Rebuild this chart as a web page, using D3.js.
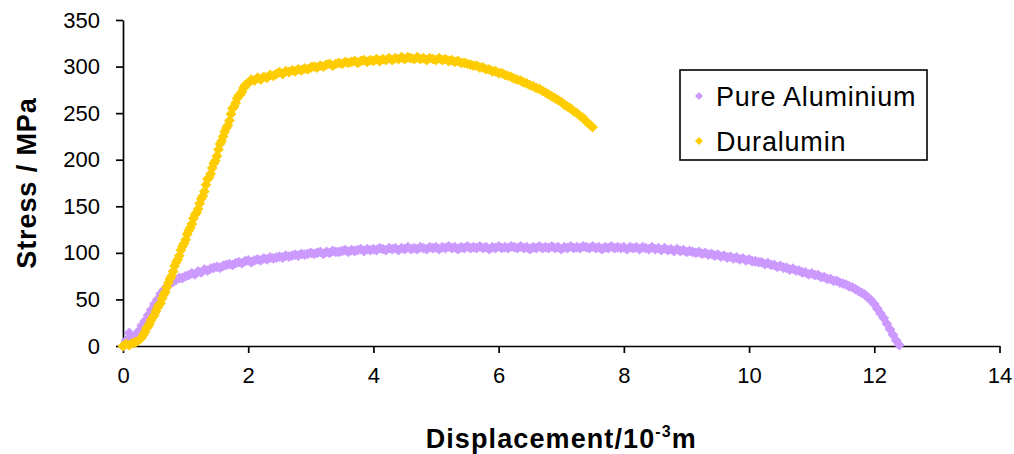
<!DOCTYPE html>
<html>
<head>
<meta charset="utf-8">
<script src="https://cdn.jsdelivr.net/npm/d3@7"></script>
<style>
  html, body { margin: 0; padding: 0; background: #fff; }
  svg { display: block; }
  text { font-family: "Liberation Sans", Arial, sans-serif; fill: #000; }
</style>
</head>
<body>
<svg id="chart" width="1014" height="454"></svg>
<script>
// ---- Data ----
const seriesNames = ["Pure Aluminium", "Duralumin"];
const seriesColors = ["#CC99FF", "#FFCC00"];

const xTicks = [0, 2, 4, 6, 8, 10, 12, 14];
const yTicks = [0, 50, 100, 150, 200, 250, 300, 350];

// Pure Aluminium: displacement (10^-3 m) and stress (MPa)
const alDisp = [
  0.00,0.05,0.10,0.15,0.20,0.25,0.30,0.35,0.40,0.45,0.50,0.55,0.60,0.65,0.70,0.75,0.80,0.85,0.90,0.95,
  1.00,1.05,1.10,1.15,1.20,1.25,1.30,1.35,1.40,1.45,1.50,1.55,1.60,1.65,1.70,1.75,1.80,1.85,1.90,1.95,
  2.00,2.05,2.10,2.15,2.20,2.25,2.30,2.35,2.40,2.45,2.50,2.55,2.60,2.65,2.70,2.75,2.80,2.85,2.90,2.95,
  3.00,3.05,3.10,3.15,3.20,3.25,3.30,3.35,3.40,3.45,3.50,3.55,3.60,3.65,3.70,3.75,3.80,3.85,3.90,3.95,
  4.00,4.05,4.10,4.15,4.20,4.25,4.30,4.35,4.40,4.45,4.50,4.55,4.60,4.65,4.70,4.75,4.80,4.85,4.90,4.95,
  5.00,5.05,5.10,5.15,5.20,5.25,5.30,5.35,5.40,5.45,5.50,5.55,5.60,5.65,5.70,5.75,5.80,5.85,5.90,5.95,
  6.00,6.05,6.10,6.15,6.20,6.25,6.30,6.35,6.40,6.45,6.50,6.55,6.60,6.65,6.70,6.75,6.80,6.85,6.90,6.95,
  7.00,7.05,7.10,7.15,7.20,7.25,7.30,7.35,7.40,7.45,7.50,7.55,7.60,7.65,7.70,7.75,7.80,7.85,7.90,7.95,
  8.00,8.05,8.10,8.15,8.20,8.25,8.30,8.35,8.40,8.45,8.50,8.55,8.60,8.65,8.70,8.75,8.80,8.85,8.90,8.95,
  9.00,9.05,9.10,9.15,9.20,9.25,9.30,9.35,9.40,9.45,9.50,9.55,9.60,9.65,9.70,9.75,9.80,9.85,9.90,9.95,
  10.00,10.05,10.10,10.15,10.20,10.25,10.30,10.35,10.40,10.45,10.50,10.55,10.60,10.65,10.70,10.75,10.80,10.85,10.90,10.95,
  11.00,11.05,11.10,11.15,11.20,11.25,11.30,11.35,11.40,11.45,11.50,11.55,11.60,11.65,11.70,11.75,11.80,11.85,11.90,11.95,
  12.00,12.05,12.10,12.15,12.20,12.25,12.30,12.35,12.40];
const alStress = [
  0,6,14,8,11,16,22,27,33,39,45,50,56,60,64,67,69,71,73,73,
  75,76,78,77,80,79,82,81,83,84,85,84,86,87,88,87,89,90,89,91,
  92,90,92,93,92,94,93,95,94,95,96,95,97,96,97,98,97,99,98,99,
  100,99,100,101,99,101,100,102,101,101,102,103,101,103,102,103,104,102,104,103,
  104,103,105,104,103,105,104,105,103,105,104,106,104,105,104,106,105,104,106,105,
  106,104,106,105,107,105,106,104,106,105,107,105,106,105,107,105,106,104,106,105,
  107,105,106,105,107,106,105,107,105,106,104,106,105,107,105,106,105,107,105,106,
  104,106,105,107,105,106,105,107,106,105,107,105,106,104,106,105,107,105,106,105,
  106,104,106,105,106,104,106,105,104,106,104,105,103,105,103,104,102,104,102,103,
  101,102,101,100,101,99,100,98,99,97,98,96,97,95,96,94,95,93,94,92,
  93,91,91,90,90,88,89,87,87,85,86,84,84,82,83,81,81,79,79,77,
  78,76,76,74,74,72,72,70,70,68,67,66,64,63,61,59,57,55,52,49,
  45,40,35,30,24,18,12,6,1];

// Duralumin: displacement (10^-3 m) and stress (MPa)
const duDisp = [
  0.00,0.05,0.10,0.15,0.20,0.25,0.30,0.325,0.35,0.375,0.40,0.425,0.45,0.475,0.50,0.525,0.55,0.575,
  0.60,0.625,0.65,0.675,0.70,0.725,0.75,0.775,0.80,0.825,0.85,0.875,0.90,0.925,0.95,0.975,
  1.00,1.025,1.05,1.075,1.10,1.125,1.15,1.175,1.20,1.225,1.25,1.275,1.30,1.325,1.35,1.375,
  1.40,1.425,1.45,1.475,1.50,1.525,1.55,1.575,1.60,1.625,1.65,1.675,1.70,1.725,1.75,1.775,
  1.80,1.825,1.85,1.875,1.90,1.925,1.95,1.975,
  2.00,2.05,2.10,2.15,2.20,2.25,2.30,2.35,2.40,2.45,2.50,2.55,2.60,2.65,2.70,2.75,2.80,2.85,2.90,2.95,
  3.00,3.05,3.10,3.15,3.20,3.25,3.30,3.35,3.40,3.45,3.50,3.55,3.60,3.65,3.70,3.75,3.80,3.85,3.90,3.95,
  4.00,4.05,4.10,4.15,4.20,4.25,4.30,4.35,4.40,4.45,4.50,4.55,4.60,4.65,4.70,4.75,4.80,4.85,4.90,4.95,
  5.00,5.05,5.10,5.15,5.20,5.25,5.30,5.35,5.40,5.45,5.50,5.55,5.60,5.65,5.70,5.75,5.80,5.85,5.90,5.95,
  6.00,6.05,6.10,6.15,6.20,6.25,6.30,6.35,6.40,6.45,6.50,6.55,6.60,6.65,6.70,6.75,6.80,6.85,6.90,6.95,
  7.00,7.05,7.10,7.15,7.20,7.25,7.30,7.35,7.40,7.45,7.50];
const duStress = [
  0,2,1,3,4,6,9,12,15,19,21,24,28,31,33,37,41,44,
  46,51,55,58,63,68,72,75,80,86,90,93,97,103,107,110,
  114,120,124,127,131,137,141,143,147,153,158,161,166,173,179,181,
  185,191,196,199,204,211,217,220,225,230,234,237,242,249,255,257,
  261,266,269,270,273,277,280,281,
  282,286,285,288,286,289,288,291,290,292,294,292,295,294,296,295,297,296,298,297,
  299,300,299,301,300,302,303,301,303,304,303,305,304,305,306,304,306,307,305,307,
  306,308,306,308,307,309,307,309,308,310,308,310,309,308,310,308,309,307,309,308,
  307,309,307,308,306,307,305,306,304,304,303,302,301,301,299,299,297,297,295,295,
  293,293,291,290,289,287,286,285,283,282,280,279,277,276,274,272,270,268,266,264,
  262,259,257,255,252,250,247,245,241,238,235];

// ---- Layout ----
const svg = d3.select("#chart");
const x = d3.scaleLinear().domain([0, 14]).range([123, 999.5]);
const y = d3.scaleLinear().domain([0, 350]).range([346, 20]);

const diamond = r => `M0,${-r}L${r},0L0,${r}L${-r},0Z`;

// Axes
const xAxis = svg.append("g")
  .attr("transform", `translate(0,${y(0)})`)
  .call(d3.axisBottom(x).tickValues(xTicks).tickSize(7).tickSizeOuter(0).tickPadding(14).tickFormat(d3.format("d")));
const yAxis = svg.append("g")
  .attr("transform", `translate(${x(0)},0)`)
  .call(d3.axisLeft(y).tickValues(yTicks).tickSize(7).tickSizeOuter(0).tickPadding(16).tickFormat(d3.format("d")));

[xAxis, yAxis].forEach(g => {
  g.select(".domain").attr("stroke", "#000").attr("stroke-width", 1.7);
  g.selectAll(".tick line").attr("stroke", "#000").attr("stroke-width", 1.7);
  g.selectAll(".tick text").attr("font-size", 22).attr("font-family", "Liberation Sans, Arial, sans-serif").attr("fill", "#111");
});

// Series
const series = [
  { name: seriesNames[0], color: seriesColors[0], xs: alDisp, ys: alStress },
  { name: seriesNames[1], color: seriesColors[1], xs: duDisp, ys: duStress }
];
series.forEach(s => {
  svg.append("g").selectAll("path")
    .data(s.xs.map((d, i) => [d, s.ys[i]]))
    .join("path")
    .attr("d", diamond(5.4))
    .attr("transform", d => `translate(${x(d[0])},${y(d[1])})`)
    .attr("fill", s.color);
});

// Axis titles
svg.append("text")
  .attr("transform", `translate(36,${(y(0) + y(350)) / 2}) rotate(-90)`)
  .attr("text-anchor", "middle")
  .attr("font-size", 27).attr("font-weight", "bold")
  .attr("letter-spacing", 0.9)
  .text("Stress / MPa");

const xt = svg.append("text")
  .attr("x", (x(0) + x(14)) / 2)
  .attr("y", 448)
  .attr("text-anchor", "middle")
  .attr("font-size", 27).attr("font-weight", "bold")
  .attr("letter-spacing", 1.1);
xt.append("tspan").text("Displacement/10");
xt.append("tspan").attr("font-size", 16).attr("dy", -11).text("-3");
xt.append("tspan").attr("dy", 11).text("m");

// Legend
const lg = svg.append("g");
lg.append("rect").attr("x", 680).attr("y", 70).attr("width", 247).attr("height", 90)
  .attr("fill", "#fff").attr("stroke", "#000").attr("stroke-width", 1.6);
series.forEach((s, i) => {
  const cy = 96 + i * 45;
  lg.append("path").attr("d", diamond(4)).attr("transform", `translate(699,${cy})`).attr("fill", s.color);
  lg.append("text").attr("x", 716).attr("y", cy + 9.5).attr("font-size", 27)
    .attr("letter-spacing", 0.8).attr("fill", "#111").text(s.name);
});
</script>
</body>
</html>
